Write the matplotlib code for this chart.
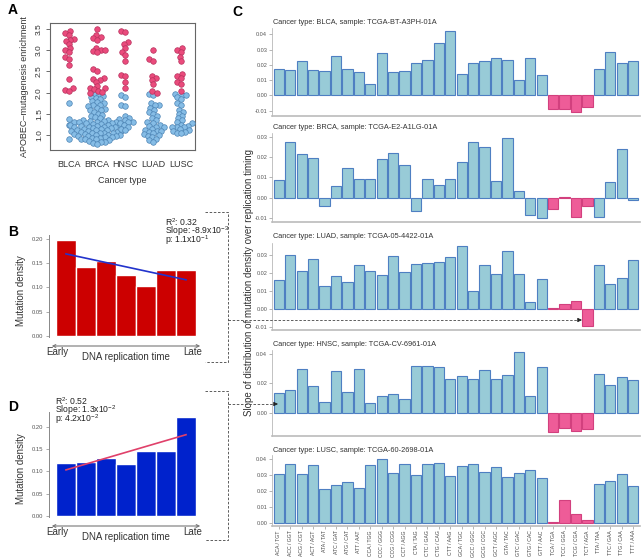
import numpy as np
import matplotlib.pyplot as plt
from matplotlib.ticker import FormatStrFormatter

plt.rcParams['font.family'] = ['Liberation Sans', 'DejaVu Sans']
plt.rcParams['mathtext.fontset'] = 'custom'
plt.rcParams['mathtext.rm'] = 'Liberation Sans'

# ---- panel A : APOBEC enrichment per cancer type
cancers = ['BLCA', 'BRCA', 'HNSC', 'LUAD', 'LUSC']
blca_hi = [3.45, 3.4, 3.35, 3.27, 3.25, 3.22, 3.15, 3.05, 3.0, 2.95, 2.85, 2.8, 2.65, 2.32, 2.1, 2.07, 2.05]
blca_lo = [1.75, 1.37, 1.25, 0.9]
brca_hi = [3.5, 3.35, 3.3, 3.28, 3.25, 3.05, 3.0, 3.0, 2.97, 2.95, 2.55, 2.5, 2.35, 2.32, 2.3,
           2.25, 2.15, 2.12, 2.1, 2.08, 2.05, 2.02, 2.0]
brca_lo = [1.98, 1.95, 1.92, 1.9, 1.88, 1.85, 1.8, 1.78, 1.75, 1.72, 1.7, 1.68, 1.65, 1.62, 1.6,
           1.58, 1.55, 1.5, 1.48, 1.45, 1.42, 1.4, 1.38, 1.36, 1.35, 1.34, 1.33, 1.32, 1.31, 1.3,
           1.3, 1.29, 1.28, 1.27, 1.26, 1.25, 1.25, 1.24, 1.23, 1.22, 1.21, 1.2, 1.2, 1.19, 1.18,
           1.17, 1.16, 1.15, 1.15, 1.14, 1.13, 1.12, 1.11, 1.1, 1.1, 1.09, 1.08, 1.07, 1.06, 1.05,
           1.05, 1.04, 1.03, 1.02, 1.01, 1.0, 1.0, 0.99, 0.98, 0.97, 0.96, 0.95, 0.94, 0.93, 0.92,
           0.91, 0.9, 0.88, 0.86, 0.85, 0.84, 0.82, 0.8]
hnsc_hi = [3.45, 3.42, 3.2, 3.15, 3.05, 2.95, 2.88, 2.75, 2.42, 2.4, 2.25, 2.1]
hnsc_lo = [1.95, 1.9, 1.72, 1.68, 1.45, 1.4, 1.35, 1.32, 1.3, 1.28, 1.25, 1.2, 1.15, 1.12]
luad_hi = [3.0, 2.8, 2.75, 2.4, 2.35, 2.3, 2.2, 2.05, 2.0]
luad_lo = [1.98, 1.95, 1.75, 1.72, 1.7, 1.65, 1.6, 1.55, 1.5, 1.45, 1.4, 1.35, 1.3, 1.28, 1.25,
           1.22, 1.2, 1.18, 1.15, 1.12, 1.1, 1.1, 1.08, 1.05, 1.02, 1.0, 0.98, 0.95, 0.92, 0.88, 0.85]
lusc_hi = [3.05, 3.0, 2.95, 2.85, 2.75, 2.45, 2.4, 2.35, 2.25, 2.2, 2.05]
lusc_lo = [1.98, 1.95, 1.95, 1.9, 1.85, 1.75, 1.7, 1.6, 1.55, 1.5, 1.45, 1.4, 1.35, 1.3, 1.28,
           1.25, 1.22, 1.2, 1.2, 1.18, 1.15, 1.12, 1.1, 1.08, 1.05, 1.05]
enrich_hi = [blca_hi, brca_hi, hnsc_hi, luad_hi, lusc_hi]
enrich_lo = [blca_lo, brca_lo, hnsc_lo, luad_lo, lusc_lo]

# ---- panels B and D : mutation density per replication timing bin
rt_bins = [1, 2, 3, 4, 5, 6, 7]
dens_b = [0.198, 0.143, 0.155, 0.126, 0.103, 0.136, 0.137]
dens_d = [0.120, 0.122, 0.130, 0.117, 0.145, 0.146, 0.222]

# ---- panel C : slopes per trinucleotide context
contexts = ['ACA / TGT', 'ACC / GGT', 'ACG / CGT', 'ACT / AGT', 'ATA / TAT', 'ATC / GAT', 'ATG / CAT',
            'ATT / AAT', 'CCA / TGG', 'CCC / GGG', 'CCG / CGG', 'CCT / AGG', 'CTA / TAG', 'CTC / GAG',
            'CTG / CAG', 'CTT / AAG', 'GCA / TGC', 'GCC / GGC', 'GCG / CGC', 'GCT / AGC', 'GTA / TAC',
            'GTC / GAC', 'GTG / CAC', 'GTT / AAC', 'TCA / TGA', 'TCC / GGA', 'TCG / CGA', 'TCT / AGA',
            'TTA / TAA', 'TTC / GAA', 'TTG / CAA', 'TTT / AAA']
apobec = ['TCA / TGA', 'TCC / GGA', 'TCG / CGA', 'TCT / AGA']
samples = ['Cancer type: BLCA, sample: TCGA-BT-A3PH-01A',
           'Cancer type: BRCA, sample: TCGA-E2-A1LG-01A',
           'Cancer type: LUAD, sample: TCGA-05-4422-01A',
           'Cancer type: HNSC, sample: TCGA-CV-6961-01A',
           'Cancer type: LUSC, sample: TCGA-60-2698-01A']
slope_blca = [0.0171, 0.0167, 0.0224, 0.0165, 0.016, 0.0257, 0.0174, 0.0152, 0.0073, 0.0277, 0.0152,
              0.0158, 0.0213, 0.0231, 0.0343, 0.042, 0.0138, 0.0211, 0.0224, 0.0244, 0.0231, 0.0099,
              0.0244, 0.013, -0.0088, -0.0088, -0.0112, -0.0075, 0.0171, 0.0284, 0.0213, 0.0226]
slope_brca = [0.0085, 0.0277, 0.0216, 0.0198, -0.0039, 0.0059, 0.0144, 0.009, 0.009, 0.019, 0.0218,
              0.0159, -0.0066, 0.009, 0.0062, 0.009, 0.0174, 0.0277, 0.0252, 0.0082, 0.0292, 0.0031,
              -0.0085, -0.0102, -0.0057, 0.0005, -0.0093, -0.0041, -0.0097, 0.0075, 0.0239, -0.001]
slope_luad = [0.0165, 0.0303, 0.0211, 0.0281, 0.0127, 0.0187, 0.0154, 0.0244, 0.0215, 0.0191, 0.0297,
              0.0209, 0.025, 0.0259, 0.0264, 0.0292, 0.0354, 0.0099, 0.0244, 0.0198, 0.0321, 0.0198,
              0.0039, 0.0171, 0.0006, 0.0029, 0.0046, -0.0092, 0.0244, 0.0143, 0.0176, 0.0272]
slope_hnsc = [0.0132, 0.0157, 0.0295, 0.0184, 0.0073, 0.0282, 0.0139, 0.0295, 0.0064, 0.0111, 0.0125,
              0.0093, 0.0318, 0.0318, 0.0309, 0.0227, 0.0248, 0.0227, 0.0289, 0.0227, 0.0259, 0.0411,
              0.0111, 0.0309, -0.013, -0.0107, -0.0125, -0.0114, 0.0264, 0.0186, 0.0241, 0.022]
slope_lusc = [0.0308, 0.0369, 0.0308, 0.0365, 0.0213, 0.0238, 0.026, 0.0221, 0.0363, 0.04, 0.0315,
              0.0369, 0.03, 0.0373, 0.0375, 0.0294, 0.0358, 0.0369, 0.0323, 0.035, 0.0288, 0.0313,
              0.0331, 0.0285, 0.0006, 0.0146, 0.0058, 0.0021, 0.0244, 0.0263, 0.0308, 0.0231]
slopes = [slope_blca, slope_brca, slope_luad, slope_hnsc, slope_lusc]

W, H = 641, 559
fig = plt.figure(figsize=(W / 100, H / 100), dpi=100)


def rect(l, t, r, b):
    return [l / W, 1 - b / H, (r - l) / W, (b - t) / H]


def ftext(x, y, s, **kw):
    fig.text(x / W, 1 - y / H, s, **kw)


def swarm(vals, d=4.3, yscale=42.4, xscale=28.0):
    # simple beeswarm, offsets worked out in pixel units
    ys = np.array(vals) * yscale
    placed = []
    offs = np.zeros(len(ys))
    for i in np.argsort(ys):
        y = ys[i]
        cands = [0.0]
        for px, py in placed:
            dy = abs(y - py)
            if dy < d:
                dx = np.sqrt(d * d - dy * dy)
                cands += [px - dx, px + dx]
        cands.sort(key=abs)
        for c in cands:
            if all((c - px) ** 2 + (y - py) ** 2 >= d * d - 1e-6 for px, py in placed):
                break
        placed.append((c, y))
        offs[i] = c / xscale
    return offs


# ---------------- A
axA = fig.add_axes(rect(50, 23, 195, 150))
for k in range(len(cancers)):
    allv = enrich_hi[k] + enrich_lo[k]
    offs = swarm(allv)
    n = len(enrich_hi[k])
    xs = k + 1 + offs
    axA.scatter(xs[n:], enrich_lo[k], s=16, c='#86BDE6', edgecolors='#4C84B5', linewidths=0.5, zorder=3)
    axA.scatter(xs[:n], enrich_hi[k], s=16, c='#EA4B7C', edgecolors='#B8325E', linewidths=0.5, zorder=3)
axA.set_xlim(0.32, 5.5)
axA.set_ylim(0.65, 3.64)
axA.set_xticks(range(1, 6))
axA.set_xticklabels(cancers, fontsize=6.5, color='#333333')
axA.tick_params(axis='x', length=0, pad=7)
axA.set_yticks([1.0, 1.5, 2.0, 2.5, 3.0, 3.5])
axA.set_yticklabels(['1.0', '1.5', '2.0', '2.5', '3.0', '3.5'], rotation=90, va='center', fontsize=6, color='#333333')
axA.tick_params(axis='y', length=3, width=0.6, color='#555555', pad=2)
for sp in axA.spines.values():
    sp.set_color('#666666')
    sp.set_linewidth(0.8)
axA.set_ylabel('APOBEC–mutagenesis enrichment', fontsize=6.5, color='#333333', labelpad=5)
axA.set_xlabel('Cancer type', fontsize=6.5, color='#333333', labelpad=5)


# ---------------- B and D
def density_panel(box, vals, color, linecol, ylim):
    ax = fig.add_axes(rect(*box))
    ax.bar(rt_bins, vals, width=1.0, color=color, edgecolor='white', linewidth=1.0, zorder=2)
    k, b = np.polyfit(rt_bins, vals, 1)
    xx = np.array([rt_bins[0], rt_bins[-1]])
    ax.plot(xx, k * xx + b, color=linecol, lw=1.2, zorder=3)
    ax.set_xlim(0.15, 7.85)
    ax.set_ylim(*ylim)
    ax.set_yticks([0.0, 0.05, 0.10, 0.15, 0.20])
    ax.yaxis.set_major_formatter(FormatStrFormatter('%.2f'))
    ax.tick_params(axis='y', labelsize=4.2, labelcolor='#555555', length=2, width=0.5, color='#888888', pad=2)
    ax.set_xticks([])
    for s in ['top', 'right', 'bottom']:
        ax.spines[s].set_visible(False)
    ax.spines['left'].set_color('#888888')
    ax.spines['left'].set_linewidth(0.7)
    ax.spines['left'].set_bounds(-0.002, ylim[1])
    ax.annotate('', xy=(1.0, 0.0), xytext=(0.0, 0.0), xycoords='axes fraction',
                arrowprops=dict(arrowstyle='<->', color='#777777', lw=0.8, mutation_scale=5))
    ax.set_ylabel('Mutation density', fontsize=7, color='#333333', labelpad=4)
    return ax


density_panel((49, 235, 203, 346), dens_b, '#CC0000', '#2233CC', (-0.0206, 0.2082))
ftext(57, 352, 'Early', fontsize=7, color='#333333', ha='center', va='center')
ftext(193, 352, 'Late', fontsize=7, color='#333333', ha='center', va='center')
ftext(126, 357, 'DNA replication time', fontsize=7, color='#333333', ha='center', va='center')
ftext(165, 222, 'R$^2$: 0.32', fontsize=6.2, color='#222222', va='center')
ftext(165, 231, 'Slope: -8.9x10$^{-3}$', fontsize=6.2, color='#222222', va='center')
ftext(165, 240, 'p: 1.1x10$^{-1}$', fontsize=6.2, color='#222222', va='center')

density_panel((49, 412, 203, 526), dens_d, '#0022CC', '#E0406A', (-0.0225, 0.2337))
ftext(57, 532, 'Early', fontsize=7, color='#333333', ha='center', va='center')
ftext(193, 532, 'Late', fontsize=7, color='#333333', ha='center', va='center')
ftext(126, 537, 'DNA replication time', fontsize=7, color='#333333', ha='center', va='center')
ftext(55, 401, 'R$^2$: 0.52', fontsize=6.2, color='#222222', va='center')
ftext(55, 410, 'Slope: 1.3x10$^{-2}$', fontsize=6.2, color='#222222', va='center')
ftext(55, 419, 'p: 4.2x10$^{-2}$', fontsize=6.2, color='#222222', va='center')

# ---------------- C
c_layout = [(28, 116, -0.0136, 0.0441, [-0.01, 0.0, 0.01, 0.02, 0.03, 0.04], 22),
            (133, 222, -0.012, 0.0319, [-0.01, 0.0, 0.01, 0.02, 0.03], 128),
            (243, 329.5, -0.0112, 0.0368, [-0.01, 0.0, 0.01, 0.02, 0.03], 236),
            (350, 436, -0.0159, 0.0427, [0.0, 0.02, 0.04], 344),
            (455, 526, -0.0017, 0.0427, [0.0, 0.01, 0.02, 0.03, 0.04], 451)]
xpos = np.arange(1, len(contexts) + 1)
fills = ['#EE5C98' if c in apobec else '#98CBD7' for c in contexts]
edges = ['#D2407E' if c in apobec else '#4E7FC2' for c in contexts]
for i, (top, bot, y0, y1, ticks, ty) in enumerate(c_layout):
    ax = fig.add_axes(rect(272, top, 640, bot))
    ax.bar(xpos, slopes[i], width=0.9, color=fills, edgecolor=edges, linewidth=0.8)
    ax.set_xlim(0.4, 32.6)
    ax.set_ylim(y0, y1)
    ax.set_yticks(ticks)
    ax.yaxis.set_major_formatter(FormatStrFormatter('%.2f'))
    ax.tick_params(axis='y', labelsize=4.0, labelcolor='#555555', length=2, width=0.5, color='#999999', pad=1.5)
    for s in ['top', 'right']:
        ax.spines[s].set_visible(False)
    ax.spines['left'].set_color('#AAAAAA')
    ax.spines['left'].set_linewidth(0.5)
    ax.spines['bottom'].set_color('#BBBBBB')
    ax.spines['bottom'].set_linewidth(1.2)
    if i == len(c_layout) - 1:
        ax.set_xticks(xpos)
        ax.set_xticklabels(contexts, rotation=90, fontsize=3.7, color='#444444')
        ax.tick_params(axis='x', length=2, width=0.5, color='#999999', pad=1)
    else:
        ax.set_xticks([])
    ftext(273, ty, samples[i], fontsize=5.3, color='#333333', va='center')

ftext(249, 282, 'Slope of distribution of mutation density over replication timing',
      fontsize=7, color='#333333', rotation=90, ha='center', va='center')

# panel letters
for x, y, s in [(8, 10, 'A'), (8, 232, 'B'), (232, 12, 'C'), (8, 407, 'D')]:
    ftext(x, y, s, fontsize=10, fontweight='bold', va='center')

# dashed brackets and arrows
ov = fig.add_axes([0, 0, 1, 1], zorder=10)
ov.set_xlim(0, W)
ov.set_ylim(H, 0)
ov.axis('off')
dash = dict(color='#444444', lw=0.6, ls=(0, (3, 2)))
ov.plot([205, 228, 228, 205], [212, 212, 362, 362], **dash)
ov.plot([205, 228, 228, 205], [391, 391, 540, 540], **dash)
ov.plot([228, 577], [320, 320], **dash)
ov.plot([228, 273], [404, 404], **dash)
for xe, ye in [(582, 320), (278, 404)]:
    ov.annotate('', xy=(xe, ye), xytext=(xe - 5, ye),
                arrowprops=dict(arrowstyle='-|>', color='#222222', lw=0.6, mutation_scale=6))

fig.savefig('out.png', dpi=100)
